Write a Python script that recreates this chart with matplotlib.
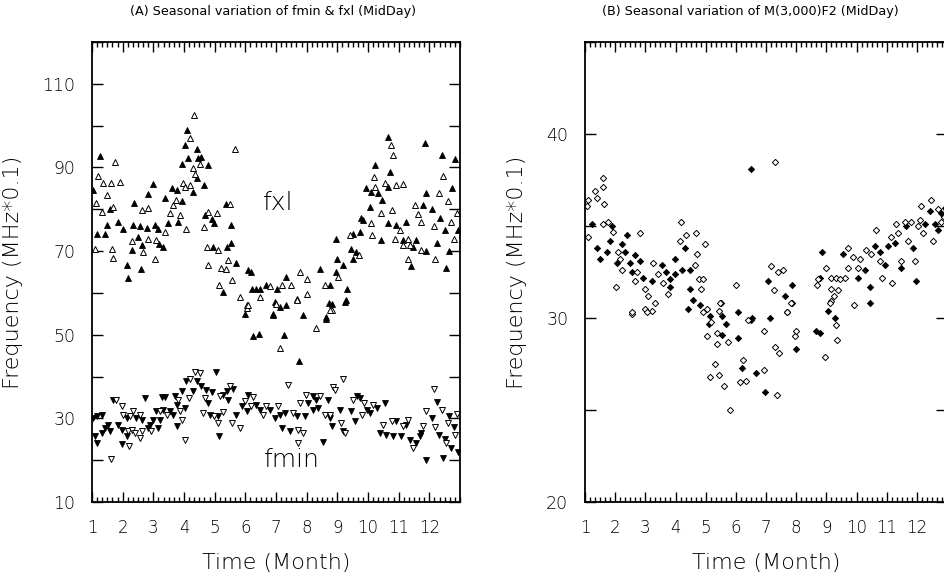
import matplotlib
matplotlib.use("Agg")
import matplotlib.pyplot as plt
from matplotlib.ticker import MultipleLocator, FixedLocator

# ---------------- data ----------------
month_ticks = list(range(1, 13))
month_labels = [str(m) for m in month_ticks]

fxl_filled_x = [1.26,1.04,1.86,2.0,1.15,1.42,2.13,2.18,1.48,1.6,
    2.37,2.83,2.98,2.35,2.56,2.80,2.51,2.62,2.29,3.32,2.6,3.2,
    3.05,3.16,3.49,3.92,3.81,3.38,3.6,3.76,4.28,3.94,4.03,4.1,4.41,4.12,4.46,4.57,4.77,4.41,4.65,
    4.68,4.9,4.97,5.36,5.52,4.96,5.4,5.54,5.71,5.28,6.09,6.2,5.98,6.23,
    6.67,7.02,7.34,6.47,6.36,6.96,7.12,8.43,8.75,8.97,9.19,9.3,9.24,8.95,9.0,8.81,6.91,8.64,7.88,
    6.25,6.44,6.9,7.32,7.25,7.74,8.64,8.73,9.27,
    9.51,9.73,9.46,9.62,9.51,9.84,10.05,9.78,9.95,10.11,10.33,10.22,10.65,10.71,10.65,10.47,10.65,10.92,11.25,10.44,11.14,11.57,11.79,11.47,11.9,11.41,11.85,11.9,
    12.1,12.25,12.35,12.4,12.5,12.65,12.75,12.85,12.95,12.55]
fxl_filled_y = [92.8,84.6,77.0,75.4,74.2,74.2,66.6,63.5,76.2,80.0,
    81.4,83.6,86.0,76.2,76.0,75.5,73.4,71.4,70.2,71.0,65.8,71.8,
    76.2,75.4,76.6,82.0,77.0,82.8,85.0,84.6,84.2,90.8,95.4,99.0,94.4,92.3,92.3,92.4,90.6,87.4,85.8,
    78.6,77.7,76.8,81.2,76.2,71.0,71.0,72.0,67.2,60.2,65.4,65.0,55.0,61.0,
    61.8,61.0,63.8,61.0,61.0,57.8,56.6,65.8,61.8,65.0,66.6,61.0,57.9,73.0,68.0,57.4,54.6,54.2,54.6,
    49.7,50.1,55.0,57.0,49.9,43.7,53.7,57.6,58.2,
    74.2,74.6,70.6,69.8,68.2,77.4,80.6,78.0,85.0,84.2,83.8,90.6,97.4,89.0,85.4,82.2,76.6,76.2,77.0,72.6,72.6,72.6,81.0,71.0,70.0,66.4,95.8,83.8,
    80,72,78,93,75,70,85,92,75,66]

fxl_open_x = [1.21,1.35,1.61,1.91,1.75,1.48,1.13,1.31,1.7,1.1,1.64,1.7,
    2.62,2.83,2.29,2.83,2.67,3.05,3.1,
    3.38,3.54,3.65,3.74,3.87,4.08,3.97,4.19,4.19,4.32,4.52,4.3,4.35,4.03,
    4.79,5.06,4.65,5.5,5.66,4.76,5.1,4.79,5.22,5.38,5.44,5.55,5.15,5.82,6.04,6.47,6.06,
    6.8,7.18,7.5,7.78,8.0,7.7,8.0,8.59,9.02,8.81,
    6.09,7.01,7.12,8.3,8.77,7.70,
    9.4,10.13,9.7,10.11,10.22,10.19,10.74,10.82,10.55,10.92,11.14,10.44,10.77,11.03,10.87,11.3,11.52,11.63,11.14,11.36,11.74,11.3,11.74,
    12.15,12.3,12.45,12.6,12.7,12.8,12.9,12.2]
fxl_open_y = [88.0,86.2,86.4,86.6,91.4,83.4,81.6,79.4,80.5,70.6,70.6,68.4,
    79.8,80.2,72.5,73.0,69.8,68.2,72.6,
    74.6,79.0,81.0,82.2,78.6,75.2,86.4,85.8,97.0,102.6,90.8,89.8,88.4,85.4,
    79.4,79.2,75.7,81.2,94.5,71.0,70.2,66.6,65.9,65.8,67.8,63.2,61.8,59.0,57.0,59.0,56.5,
    61.6,61.8,62.0,65.0,63.4,58.6,59.8,61.8,63.8,55.8,
    57.0,57.4,46.9,51.7,55.8,58.2,
    73.8,73.8,69.0,76.6,85.4,87.6,95.3,93.0,86.2,85.8,86.0,79.0,79.8,75.0,73.0,73.0,81.0,78.8,71.4,71.4,70.2,68.0,77.0,
    76,84,88,82,77,73,79,68]

fmin_filled_x = [1.04,1.15,1.31,1.1,1.15,1.31,1.42,1.53,1.59,1.69,1.86,1.97,
    2.13,2.45,2.63,2.13,1.97,2.73,2.83,2.89,
    3.0,3.1,3.32,3.27,3.38,3.54,3.65,3.16,3.21,3.71,3.76,3.76,3.92,4.03,
    4.08,4.41,4.3,4.57,4.73,4.9,4.79,4.84,5.11,5.04,5.14,
    5.28,5.39,5.6,5.44,5.68,5.88,6.09,6.04,6.36,6.47,
    6.8,6.96,7.12,7.18,7.29,7.45,7.67,7.94,8.05,
    8.21,8.32,8.21,8.37,8.54,8.7,8.77,8.82,
    9.08,9.19,9.46,9.63,9.74,9.96,9.58,10.07,10.28,10.55,
    10.38,10.6,10.82,10.92,11.25,11.09,11.36,11.57,11.69,11.9,11.74,
    12.1,12.3,12.5,12.7,12.8,12.95,12.25,12.45,12.65]
fmin_filled_y = [30.1,30.5,30.9,25.7,24.1,26.5,27.7,28.5,26.9,34.5,28.5,27.3,
    30.1,30.1,29.7,25.7,23.9,34.9,27.7,28.5,
    29.7,31.7,32.1,35.1,35.2,31.7,30.9,27.7,29.7,35.3,33.3,28.1,36.5,32.5,
    38.9,38.9,36.5,37.7,36.9,36.3,33.7,30.9,30.5,41.1,25.7,
    35.7,36.5,37.1,34.5,30.9,32.9,35.7,31.7,33.3,32.1,
    32.1,30.1,30.9,27.7,31.3,26.9,30.5,30.5,33.7,
    35.3,34.5,32.1,32.5,24.3,34.5,30.1,28.1,
    32.1,26.9,31.7,35.3,34.9,32.1,29.3,31.3,32.5,33.7,
    26.5,26.1,25.9,29.3,28.5,25.7,24.9,24.1,25.7,20.1,26.5,
    30,26,25,23,28,22,34,20.5,30.5]

fmin_open_x = [1.61,1.77,1.97,2.02,2.24,2.35,2.56,2.18,2.29,2.4,2.22,2.56,2.62,2.94,
    3.21,3.45,3.81,3.87,3.92,4.03,
    4.21,4.35,4.52,4.17,4.68,4.63,4.97,5.11,5.17,
    5.5,5.55,5.82,5.28,6.26,5.98,6.2,6.58,6.69,
    7.07,7.4,7.56,7.72,7.72,7.79,7.88,7.97,
    8.43,8.59,8.87,8.93,9.17,8.77,
    9.13,9.24,9.51,9.87,9.8,10.17,
    10.49,10.77,11.14,11.3,11.47,11.79,11.9,
    12.2,12.4,12.6,12.9,12.15,12.55,12.85]
fmin_open_y = [20.3,34.5,32.9,30.9,30.5,31.7,30.9,26.9,27.3,26.5,23.3,25.3,26.9,26.9,
    31.7,30.9,34.5,31.7,29.7,24.9,
    39.3,41.1,40.8,34.9,34.9,31.2,30.5,28.9,35.3,
    37.7,28.9,27.7,31.5,35.2,34.1,32.9,30.9,32.9,
    32.9,37.9,31.3,27.3,24.0,33.7,26.5,35.7,
    35.3,30.9,37.6,36.8,39.3,30.9,
    28.9,26.5,34.5,33.7,30.9,33.3,
    28.5,29.3,28.1,29.7,22.9,28.1,31.7,
    28,32,29,31,37,24,26]

m3000_filled_x = [1.22,1.88,1.83,2.38,1.39,1.72,1.5,2.21,2.32,2.05,2.66,2.49,2.82,2.55,2.93,3.21,
    3.54,3.7,3.81,3.98,4.2,3.81,3.98,4.31,4.48,4.48,4.59,4.42,4.8,5.14,6.06,6.5,
    7.05,7.87,7.62,7.13,6.52,8.87,8.78,9.55,9.06,10.44,10.27,10.05,10.62,10.93,10.77,11.04,11.27,11.49,11.65,11.98,11.87,12.42,12.26,12.59,12.81,12.7,
    5.1,5.53,5.69,5.53,6.06,6.5,7.98,8.65,8.78,9.3,10.44,6.22,6.68,6.96,12.95]
m3000_filled_y = [35.1,35.0,34.2,34.5,33.8,33.6,33.2,34.0,33.6,33.0,33.4,33.0,33.1,32.5,32.2,32.0,
    32.9,32.5,32.1,32.4,32.6,31.7,33.2,33.8,32.6,31.6,31.0,30.5,30.7,30.1,30.3,38.1,
    32.0,31.8,31.2,30.0,30.0,33.6,32.2,33.5,30.4,31.7,32.6,32.2,33.9,32.9,33.6,33.9,34.1,32.7,35.0,32.0,33.8,35.8,35.1,35.1,35.7,34.8,
    29.7,29.1,29.7,30.1,28.9,29.9,28.3,29.3,29.2,30.0,30.8,27.3,27.0,26.0,36.0]

m3000_open_x = [1.61,1.61,1.33,1.39,1.11,1.08,1.64,1.61,1.77,1.94,1.11,2.82,2.08,2.16,2.21,2.71,2.66,2.02,2.99,3.1,2.99,3.21,2.55,
    3.26,3.43,3.59,3.76,4.15,4.18,4.34,4.68,4.64,4.71,4.97,4.77,4.9,5.06,4.86,5.5,5.44,6.02,
    7.31,7.18,7.4,7.57,7.27,7.87,7.7,
    8.73,8.7,9.0,9.17,9.17,9.33,9.72,9.89,9.72,9.61,9.44,9.39,9.26,9.17,9.92,
    10.1,10.05,10.33,10.66,10.49,10.77,10.84,11.18,11.15,11.32,11.38,11.49,11.71,11.6,11.93,11.82,12.09,12.04,12.13,12.46,12.2,12.53,12.7,12.81,
    2.55,3.04,3.32,4.92,5.19,5.03,5.36,5.36,5.73,5.49,6.39,6.94,7.3,7.43,7.95,8.01,7.84,7.68,8.97,9.11,9.33,9.37,
    5.3,5.14,5.45,5.61,6.24,6.13,6.33,6.94,7.35,5.82,12.9]
m3000_open_y = [37.6,37.1,36.9,36.5,36.4,36.1,36.2,35.1,35.2,34.7,34.4,34.6,33.6,33.2,32.6,32.5,32.0,31.7,31.6,31.2,30.5,30.4,30.2,
    33.0,32.4,31.9,31.3,34.2,35.2,34.5,34.6,32.9,33.5,34.0,32.1,32.1,30.5,31.6,30.8,30.4,31.8,
    38.5,32.8,32.5,32.6,31.5,30.8,30.3,
    32.1,31.8,32.7,32.2,31.6,32.2,33.8,33.3,32.7,32.2,32.1,31.5,31.2,30.9,30.7,
    33.2,32.7,33.7,34.8,33.5,33.1,32.2,31.9,34.4,35.1,34.6,33.1,34.2,35.2,33.1,35.2,35.3,35.0,36.1,36.4,34.6,34.2,35.9,35.2,
    30.3,30.3,30.8,30.3,29.8,29.0,29.2,28.6,28.7,30.8,29.9,29.3,28.4,28.1,29.0,29.3,30.8,30.3,27.9,30.8,29.6,28.8,
    27.5,26.8,26.9,26.3,27.7,26.5,26.6,27.2,25.8,25.0,35.5]

# ---------------- figure ----------------
plt.rcParams['font.family'] = ['DejaVu Sans']
plt.rcParams['font.weight'] = 'light'
plt.rcParams['axes.labelweight'] = 'light'
W, H = 944, 584
fig = plt.figure(figsize=(W / 100, H / 100), dpi=100)

axA = fig.add_axes([92 / W, 1 - 502 / H, 368 / W, 460 / H])
axB = fig.add_axes([585 / W, 1 - 502 / H, 362 / W, 460 / H])

def style_axis(ax, ymajor, yminor):
    for s in ax.spines.values():
        s.set_linewidth(1.3)
    ax.set_xlim(1, 13)
    ax.xaxis.set_major_locator(FixedLocator(month_ticks))
    ax.set_xticklabels(month_labels)
    ax.xaxis.set_minor_locator(MultipleLocator(1 / 6))
    ax.yaxis.set_major_locator(MultipleLocator(ymajor))
    ax.yaxis.set_minor_locator(MultipleLocator(yminor))
    ax.tick_params(which='both', direction='in', top=True, right=True, width=1.0,
                   labelcolor='black')
    ax.tick_params(axis='x', which='major', length=7, labelsize=12, pad=12)
    ax.tick_params(axis='x', which='minor', length=3.5)
    ax.tick_params(axis='y', which='major', length=8, labelsize=12.5, pad=12)
    ax.tick_params(axis='y', which='minor', length=8)
    ax.set_xlabel('Time (Month)', fontsize=16, labelpad=12)

ms = 4.0
axA.plot(fxl_filled_x, fxl_filled_y, '^', ms=ms, mfc='black', mec='black', mew=0.6, ls='none')
axA.plot(fxl_open_x, fxl_open_y, '^', ms=ms, mfc='white', mec='black', mew=0.7, ls='none')
axA.plot(fmin_filled_x, fmin_filled_y, 'v', ms=ms, mfc='black', mec='black', mew=0.6, ls='none')
axA.plot(fmin_open_x, fmin_open_y, 'v', ms=ms, mfc='white', mec='black', mew=0.7, ls='none')
axA.set_ylim(10, 120)
style_axis(axA, 20, 10)
axA.yaxis.set_major_locator(FixedLocator([10, 30, 50, 70, 90, 110]))
axA.set_ylabel('Frequency (MHz*0.1)', fontsize=16, labelpad=14)
axA.text(7.06, 81.6, 'fxl', fontsize=18, ha='center', va='center')
axA.text(7.5, 20.1, 'fmin', fontsize=18, ha='center', va='center')

axB.plot(m3000_filled_x, m3000_filled_y, 'D', ms=3.2, mfc='black', mec='black', mew=0.6, ls='none')
axB.plot(m3000_open_x, m3000_open_y, 'D', ms=3.2, mfc='white', mec='black', mew=0.7, ls='none')
axB.set_ylim(20, 45)
style_axis(axB, 10, 5)
axB.set_ylabel('Frequency (MHz*0.1)', fontsize=16, labelpad=14)

fig.text(273 / W, 1 - 12 / H, '(A) Seasonal variation of fmin & fxl (MidDay)',
         fontsize=9.2, fontweight='normal', ha='center', va='center')
fig.text(750 / W, 1 - 12 / H, '(B) Seasonal variation of M(3,000)F2 (MidDay)',
         fontsize=9.2, fontweight='normal', ha='center', va='center')

fig.savefig('out.png', dpi=100)
